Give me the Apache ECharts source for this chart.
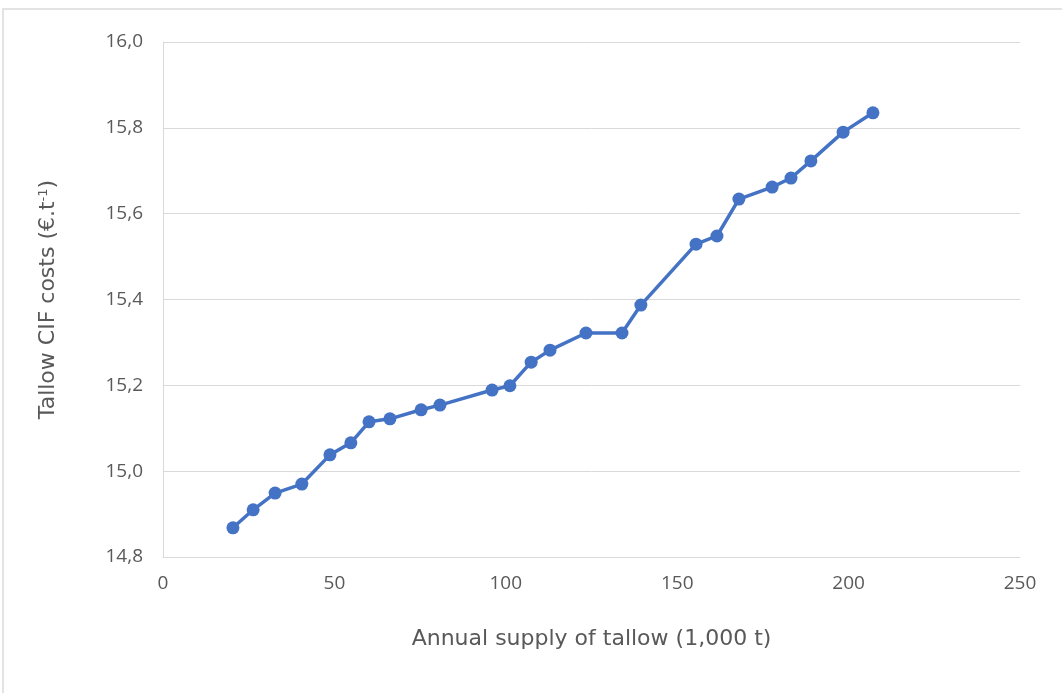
<!DOCTYPE html>
<html>
<head>
<meta charset="utf-8">
<script src="https://cdn.jsdelivr.net/npm/echarts@6/dist/echarts.min.js"></script>
<style>
  html, body { margin: 0; padding: 0; overflow: hidden; background: #fff; }
  #frame { position: absolute; left: 2px; top: 8px; width: 1080px; height: 700px; border: 2px solid #e3e3e3; box-sizing: border-box; }
  #chart { position: absolute; left: 0; top: 0; width: 1062px; height: 693px; }
</style>
</head>
<body>
<div id="frame"></div>
<div id="chart"></div>
<script>
// Annual supply of tallow (1,000 t)
const supply = [20.4, 26.3, 32.7, 40.5, 48.7, 54.8, 60.1, 66.2, 75.3, 80.8, 96.0, 101.2, 107.4, 112.9, 123.4, 133.9, 139.4, 155.5, 161.6, 168.0, 177.7, 183.2, 189.0, 198.4, 207.1];
// Tallow CIF costs (€/t)
const cost = [14.868, 14.910, 14.949, 14.970, 15.038, 15.066, 15.115, 15.122, 15.143, 15.154, 15.189, 15.199, 15.254, 15.282, 15.322, 15.322, 15.387, 15.529, 15.548, 15.634, 15.662, 15.683, 15.723, 15.790, 15.835];
const xTitle = 'Annual supply of tallow (1,000 t)';
const yTitle = 'Tallow CIF costs (€.t{sup|-1})';

const points = supply.map((x, i) => [x, cost[i]]);
const chart = echarts.init(document.getElementById('chart'), null, { renderer: 'canvas' });
const fontFam = '"Open Sans", "Liberation Sans", sans-serif';
const titleFam = '"DejaVu Sans", "Open Sans", sans-serif';
chart.setOption({
  backgroundColor: 'transparent',
  animation: false,
  grid: { left: 163, right: 42, top: 42, bottom: 136, containLabel: false },
  xAxis: {
    type: 'value', min: 0, max: 250, interval: 50,
    name: xTitle, nameLocation: 'middle', nameGap: 71,
    nameTextStyle: { color: '#595959', fontSize: 22, fontFamily: titleFam },
    axisLine: { show: true, lineStyle: { color: '#d9d9d9', width: 1 } },
    axisTick: { show: false },
    splitLine: { show: false },
    axisLabel: { color: '#595959', fontSize: 19, fontFamily: fontFam, margin: 17 }
  },
  yAxis: {
    type: 'value', min: 14.8, max: 16.0, interval: 0.2,
    name: yTitle, nameLocation: 'middle', nameGap: 104, nameRotate: 90,
    nameTextStyle: { color: '#595959', fontSize: 22, fontFamily: titleFam,
      rich: { sup: { fontSize: 13, verticalAlign: 'top', color: '#595959', fontFamily: titleFam, padding: [0, 0, 9, 0] } } },
    axisLine: { show: true, lineStyle: { color: '#d9d9d9', width: 1 } },
    axisTick: { show: false },
    splitLine: { show: true, lineStyle: { color: '#d9d9d9', width: 1 } },
    axisLabel: { color: '#595959', fontSize: 19, fontFamily: fontFam, margin: 20,
      formatter: v => v.toFixed(1).replace('.', ',') }
  },
  series: [{
    type: 'line', data: points,
    symbol: 'circle', symbolSize: 13,
    lineStyle: { color: '#4472C4', width: 3.5 },
    itemStyle: { color: '#4472C4' }
  }]
});
</script>
</body>
</html>
